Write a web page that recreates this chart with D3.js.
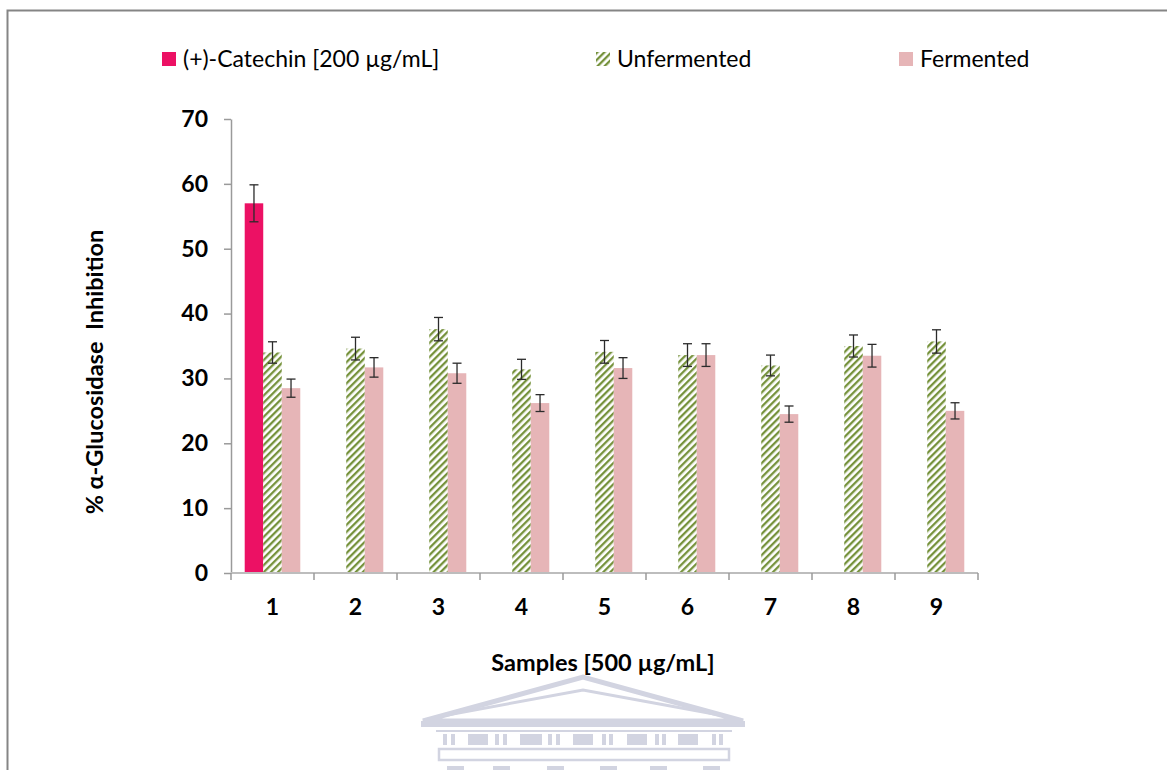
<!DOCTYPE html>
<meta charset="utf-8">
<style>
body { margin: 0; background: #fff; }
text { font-family: Lato, "Open Sans", sans-serif; fill: #000; }
</style>
<body>
<svg id="chart" width="1167" height="770"></svg>
<script src="https://cdn.jsdelivr.net/npm/d3@7"></script>
<script>

// data
var samples = ["1", "2", "3", "4", "5", "6", "7", "8", "9"];
var catechin    = [57.0, null, null, null, null, null, null, null, null];
var catechinErr = [2.85, null, null, null, null, null, null, null, null];
var unfermented    = [34.0, 34.6, 37.6, 31.4, 34.1, 33.6, 32.0, 35.0, 35.7];
var unfermentedErr = [1.65, 1.75, 1.8, 1.55, 1.75, 1.75, 1.6, 1.7, 1.8];
var fermented    = [28.5, 31.7, 30.8, 26.2, 31.6, 33.6, 24.5, 33.5, 25.0];
var fermentedErr = [1.4, 1.5, 1.55, 1.3, 1.6, 1.75, 1.25, 1.75, 1.25];
var yTicks = [0, 10, 20, 30, 40, 50, 60, 70];

var seriesNames = ["(+)-Catechin [200 µg/mL]", "Unfermented", "Fermented"];
var fills = ["#ec1164", "url(#hatch)", "#e6b5b7"];

var series = [
  {name: seriesNames[0], values: catechin, errs: catechinErr, fill: fills[0]},
  {name: seriesNames[1], values: unfermented, errs: unfermentedErr, fill: fills[1]},
  {name: seriesNames[2], values: fermented, errs: fermentedErr, fill: fills[2]}
];

var svg = d3.select("#chart");

// diagonal hatch like the excel pattern fill
var defs = svg.append("defs");
var pat = defs.append("pattern")
    .attr("id", "hatch")
    .attr("patternUnits", "userSpaceOnUse")
    .attr("width", 5).attr("height", 5)
    .attr("patternTransform", "rotate(45)");
pat.append("rect").attr("width", 5).attr("height", 5).attr("fill", "#fff");
pat.append("rect").attr("x", 0).attr("width", 2.3).attr("height", 5).attr("fill", "#76923c");

// frame around the chart area
svg.append("path")
    .attr("d", "M7.5,770 V10.5 H1167")
    .attr("fill", "none")
    .attr("stroke", "#858585")
    .attr("stroke-width", 2);

// faint watermark (building) at the bottom
var wmCol = "#d2d4e1";
var wm = svg.append("g").attr("fill", "none").attr("stroke", wmCol);
wm.append("path").attr("stroke-width", 5).attr("stroke-linejoin", "miter")
    .attr("d", "M423,721 L583,677 L743,721 Z");
wm.append("path").attr("stroke-width", 3)
    .attr("d", "M442,716 L583,690 L725,716");
wm.append("rect").attr("x", 421).attr("y", 721).attr("width", 324).attr("height", 6)
    .attr("fill", wmCol).attr("stroke", "none");
wm.append("line").attr("x1", 436).attr("x2", 732).attr("y1", 731).attr("y2", 731).attr("stroke-width", 2);
var winX = [[443, 4], [451, 4], [468, 20], [495, 4], [503, 4], [520, 22], [548, 4], [556, 4],
            [573, 20], [602, 4], [609, 4], [627, 20], [655, 4], [662, 4], [678, 20], [712, 4], [719, 4]];
wm.selectAll(".win").data(winX).enter().append("rect")
    .attr("x", function(d) { return d[0]; })
    .attr("y", 734).attr("width", function(d) { return d[1]; }).attr("height", 11)
    .attr("fill", wmCol).attr("stroke", "none");
wm.append("rect").attr("x", 439).attr("y", 749).attr("width", 290).attr("height", 11)
    .attr("stroke-width", 2.5);
var colX = [447, 493, 547, 600, 650, 703];
wm.selectAll(".col").data(colX).enter().append("rect")
    .attr("x", function(d) { return d; })
    .attr("y", 766).attr("width", 17).attr("height", 4)
    .attr("fill", wmCol).attr("stroke", "none");

var x = d3.scaleBand().domain(samples).range([231, 978]).padding(0);
var xs = d3.scaleBand().domain(d3.range(series.length)).range([0, x.bandwidth()])
    .paddingInner(0).paddingOuter(0.74);
var y = d3.scaleLinear().domain([0, 70]).range([573, 119]);

// y axis
var yAxis = svg.append("g")
    .attr("transform", "translate(231,0)")
    .call(d3.axisLeft(y).tickValues(yTicks).tickSize(7).tickPadding(16).tickSizeOuter(0));
yAxis.select(".domain").attr("stroke", "#9a9a9a").attr("stroke-width", 1.5);
yAxis.selectAll(".tick line").attr("stroke", "#9a9a9a").attr("stroke-width", 1.5);
yAxis.selectAll(".tick text")
    .style("font-family", "Lato, sans-serif")
    .style("font-size", "23px").style("font-weight", "bold").attr("fill", "#000");

// bars
var groups = svg.selectAll(".serie").data(series).enter().append("g")
    .attr("class", "serie");

groups.each(function(s, si) {
  var pts = samples.map(function(k, i) { return {k: k, v: s.values[i], e: s.errs[i]}; })
      .filter(function(p) { return p.v != null; });
  var g = d3.select(this);
  g.selectAll("rect").data(pts).enter().append("rect")
      .attr("x", function(p) { return x(p.k) + xs(si); })
      .attr("y", function(p) { return y(p.v); })
      .attr("width", xs.bandwidth())
      .attr("height", function(p) { return y(0) - y(p.v); })
      .attr("fill", s.fill);
});

// x axis, drawn after the bars so it sits on top
var xg = svg.append("g");
xg.append("line")
    .attr("x1", 231).attr("x2", 978).attr("y1", y(0)).attr("y2", y(0))
    .attr("stroke", "#bdbdbd").attr("stroke-width", 2);
xg.selectAll(".xt").data(samples.concat(["end"])).enter().append("line")
    .attr("x1", function(d) { return d === "end" ? 978 : x(d); })
    .attr("x2", function(d) { return d === "end" ? 978 : x(d); })
    .attr("y1", y(0)).attr("y2", y(0) + 7)
    .attr("stroke", "#9a9a9a").attr("stroke-width", 1.5);
xg.selectAll(".xl").data(samples).enter().append("text")
    .attr("x", function(d) { return x(d) + x.bandwidth() / 2; })
    .attr("y", 615)
    .attr("text-anchor", "middle")
    .style("font-size", "23px").style("font-weight", "bold")
    .text(function(d) { return d; });

// error bars
groups.each(function(s, si) {
  var pts = samples.map(function(k, i) { return {k: k, v: s.values[i], e: s.errs[i]}; })
      .filter(function(p) { return p.v != null; });
  var eb = svg.append("g").attr("stroke", "#2b2b2b").attr("stroke-width", 1.3);
  pts.forEach(function(p) {
    var cx = x(p.k) + xs(si) + xs.bandwidth() / 2;
    var y1 = y(p.v + p.e), y2 = y(p.v - p.e);
    eb.append("line").attr("x1", cx).attr("x2", cx).attr("y1", y1).attr("y2", y2);
    eb.append("line").attr("x1", cx - 4.5).attr("x2", cx + 4.5).attr("y1", y1).attr("y2", y1);
    eb.append("line").attr("x1", cx - 4.5).attr("x2", cx + 4.5).attr("y1", y2).attr("y2", y2);
  });
});

// axis titles
svg.append("text")
    .attr("transform", "translate(103,372) rotate(-90)")
    .attr("text-anchor", "middle")
    .style("font-size", "23.5px").style("font-weight", "bold")
    .attr("xml:space", "preserve")
    .text("% α-Glucosidase  Inhibition");

svg.append("text")
    .attr("x", 603).attr("y", 671)
    .attr("text-anchor", "middle")
    .style("font-size", "23.5px").style("font-weight", "bold")
    .text("Samples [500 µg/mL]");

// legend
var legendX = [162, 596, 899];
var legend = svg.selectAll(".legend").data(series).enter().append("g")
    .attr("class", "legend")
    .attr("transform", function(d, i) { return "translate(" + legendX[i] + ",52)"; });
legend.append("rect")
    .attr("width", 14).attr("height", 14)
    .attr("fill", function(d) { return d.fill; });
legend.append("text")
    .attr("x", 21).attr("y", 15)
    .style("font-size", "23px")
    .text(function(d) { return d.name; });

</script>
</body>
